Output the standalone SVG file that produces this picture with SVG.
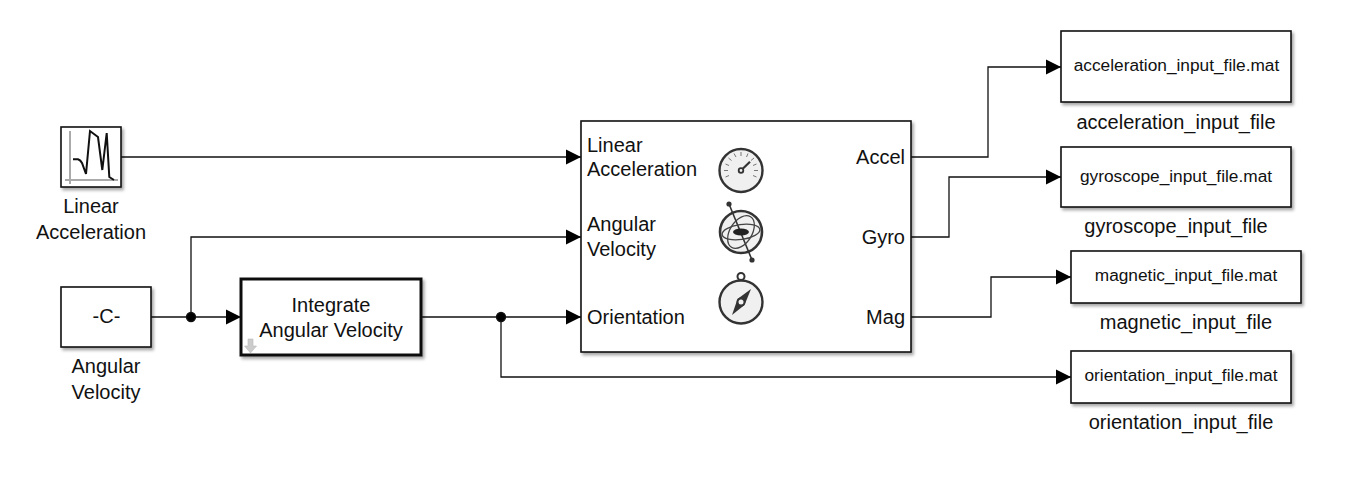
<svg xmlns="http://www.w3.org/2000/svg" width="1346" height="482" viewBox="0 0 1346 482">
<style>
text{font-family:"Liberation Sans",Arial,sans-serif;fill:#111;font-size:20px;text-anchor:middle}
.b{fill:#fff;stroke:#111;stroke-width:1.6;filter:url(#sh)}
.w{fill:none;stroke:#111;stroke-width:1.3}
.g{font-size:17.3px}
.p{text-anchor:start}
.e{text-anchor:end}
.i{fill:#f0f0f0;stroke:#333;stroke-width:2.4}
.t{fill:none;stroke:#444;stroke-width:1.300}
</style>
<defs>
<filter id="sh" x="-10%" y="-10%" width="125%" height="125%"><feDropShadow dx="2" dy="2.5" stdDeviation="1.5" flood-color="#000" flood-opacity=".35"/></filter>
<marker id="a" markerUnits="userSpaceOnUse" markerWidth="16" markerHeight="16" refX="15" refY="8" orient="auto"><path d="M0 .5L15 8L0 15.500Z" fill="#000"/></marker>
</defs>
<g id="connectors" class="w">
<path class="w" d="M121 157H581" marker-end="url(#a)"/>
<path class="w" d="M151 317H241" marker-end="url(#a)"/>
<path class="w" d="M191 317V237H581" marker-end="url(#a)"/>
<path class="w" d="M421 317H581" marker-end="url(#a)"/>
<path class="w" d="M501 317V377H1071" marker-end="url(#a)"/>
<path class="w" d="M911 157H988V67H1061" marker-end="url(#a)"/>
<path class="w" d="M911 237H949V177H1061" marker-end="url(#a)"/>
<path class="w" d="M911 317H991V277H1071" marker-end="url(#a)"/>
<circle cx="191" cy="317" r="4.500" fill="#000"/>
<circle cx="501" cy="317" r="4.500" fill="#000"/>
</g>
<g id="linear-acceleration">
<rect class="b" x="61" y="127" width="60" height="60"/>
<path d="M70 131V184M65 180H118" fill="none" stroke="#aaa" stroke-width="2"/>
<path d="M73 159.300H78C80 160 81 161 82 163L86 174L90 131L98 137L102.300 170L106.700 133L109.300 177L114 180" fill="none" stroke="#111" stroke-width="2"/>
<text x="91" y="213">Linear</text>
<text x="91" y="239">Acceleration</text>
</g>
<g id="angular-velocity">
<rect class="b" x="61" y="287" width="90" height="60"/>
<text x="106.500" y="323">-C-</text>
<text x="106" y="373">Angular</text>
<text x="106" y="399">Velocity</text>
</g>
<g id="integrate-angular-velocity">
<rect class="b" x="241" y="279" width="180" height="76" style="stroke-width:3"/>
<text x="331" y="312">Integrate</text>
<text x="331" y="337">Angular Velocity</text>
<path d="M248 339H253V346H256.500L250.500 353L244.500 346H248Z" fill="#ccc" stroke="#bbb" stroke-width=".6"/>
</g>
<g id="imu">
<rect class="b" x="581" y="121" width="330" height="231"/>
<text class="p" x="587" y="152">Linear</text>
<text class="p" x="587" y="176">Acceleration</text>
<text class="p" x="587" y="231">Angular</text>
<text class="p" x="587" y="256">Velocity</text>
<text class="p" x="587" y="324">Orientation</text>
<text class="e" x="905" y="164">Accel</text>
<text class="e" x="905" y="244">Gyro</text>
<text class="e" x="905" y="324">Mag</text>
<circle class="i" cx="741" cy="170.500" r="21.500"/>
<path d="M743 168.500L750 161.700" stroke="#333" stroke-width="2.200"/>
<circle cx="741" cy="170.500" r="2.300" fill="#f0f0f0" stroke="#333" stroke-width="1.800"/>
<path d="M724 170.500H728M725.500 164L729 165.500M728.500 158L731.500 160.500M734 153.500L736 157M741 152V156M748 153.500L746.500 157M754 158L751 160.500M756.500 164L753 165.500M758 170.500H754M756.500 177L753 175.500M725.500 177L729 175.500" stroke="#777" stroke-width="1" fill="none"/>
<circle cx="741" cy="232" r="21" fill="#f0f0f0" stroke="#333" stroke-width="2.600"/>
<path d="M729 204L752 260" stroke="#333" stroke-width="1.600"/>
<circle cx="729" cy="204" r="2.600" fill="#333"/>
<circle cx="752" cy="260" r="2.600" fill="#333"/>
<ellipse class="t" cx="741" cy="232" rx="19" ry="7.500" transform="rotate(-8 741 232)"/>
<ellipse class="t" cx="741" cy="232" rx="18" ry="11" transform="rotate(-58 741 232)"/>
<ellipse cx="741" cy="232" rx="8" ry="3.500" fill="#222"/>
<circle class="i" cx="741" cy="302" r="21.500"/>
<circle cx="741" cy="276.500" r="3.500" fill="#fff" stroke="#333" stroke-width="2"/>
<path d="M751 289L744.500 305L732 315L737.500 299Z" fill="#333"/>
<circle cx="741" cy="302" r="4.500" fill="#333"/>
<circle cx="741" cy="302" r="2.500" fill="#f0f0f0"/>
</g>
<g id="acceleration-file">
<rect class="b" x="1061" y="31" width="230" height="71"/>
<text class="g" x="1176.500" y="71">acceleration_input_file.mat</text>
<text x="1176" y="129">acceleration_input_file</text>
</g>
<g id="gyroscope-file">
<rect class="b" x="1061" y="147" width="230" height="60"/>
<text class="g" x="1176" y="182">gyroscope_input_file.mat</text>
<text x="1176" y="233">gyroscope_input_file</text>
</g>
<g id="magnetic-file">
<rect class="b" x="1071" y="251" width="230" height="52"/>
<text class="g" x="1186" y="281">magnetic_input_file.mat</text>
<text x="1186" y="329">magnetic_input_file</text>
</g>
<g id="orientation-file">
<rect class="b" x="1071" y="351" width="220" height="52"/>
<text class="g" x="1181" y="381">orientation_input_file.mat</text>
<text x="1181" y="429">orientation_input_file</text>
</g>
</svg>
